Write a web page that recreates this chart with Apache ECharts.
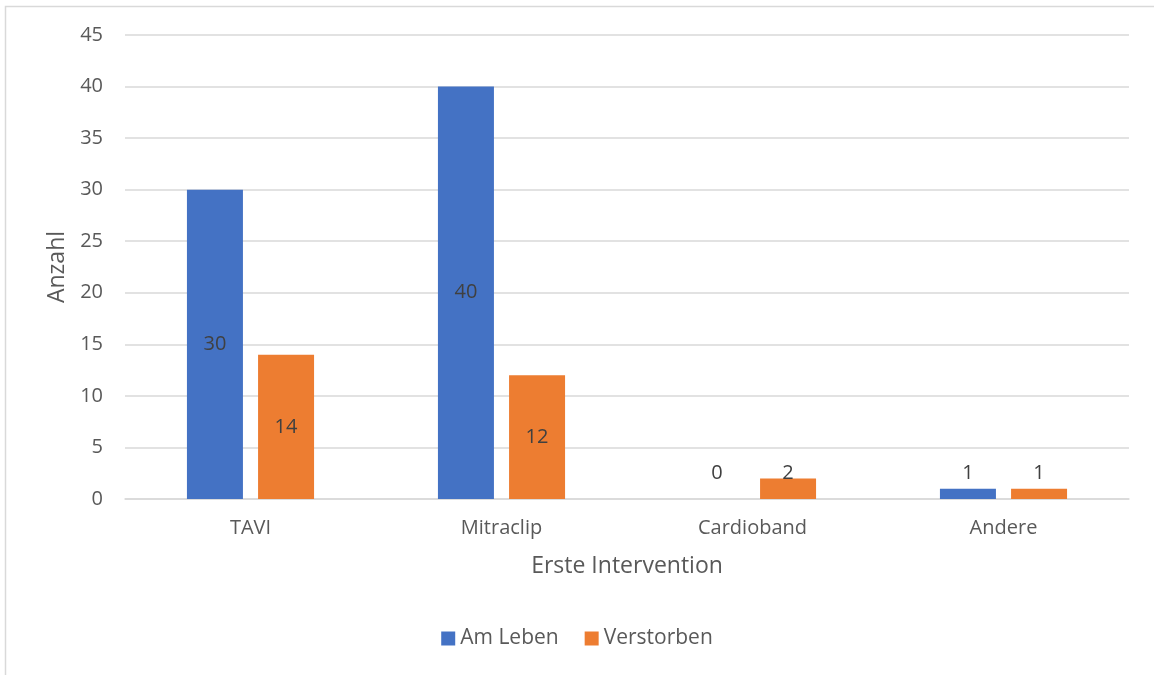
<!DOCTYPE html>
<html>
<head>
<meta charset="utf-8">
<script src="https://cdn.jsdelivr.net/npm/echarts@6/dist/echarts.min.js"></script>
<style>html,body{margin:0;padding:0;background:#fff}#c{width:1154px;height:675px}</style>
</head>
<body>
<div id="c"></div>
<script>
const categories = ['TAVI', 'Mitraclip', 'Cardioband', 'Andere'];
const amLeben = [30, 40, 0, 1];
const verstorben = [14, 12, 2, 1];
const yTicks = [0, 5, 10, 15, 20, 25, 30, 35, 40, 45];

const FONT = '"Open Sans", "Noto Sans", sans-serif';
function mk(vals) {
  return vals.map(v => {
    if (v < 4) {
      return { value: v, label: { position: 'insideBottom', distance: 16 } };
    }
    return v;
  });
}
const chart = echarts.init(document.getElementById('c'));
chart.setOption({
  animation: false,
  textStyle: { fontFamily: FONT },
  grid: { left: 125, right: 25, top: 35, bottom: 176, containLabel: false },
  graphic: [{
    type: 'polyline',
    shape: { points: [[5.5, 675], [5.5, 6.5], [1154, 6.5]] },
    style: { stroke: '#d9d9d9', lineWidth: 1.5, fill: null }
  }],
  legend: {
    bottom: 21, left: 'center', itemWidth: 14, itemHeight: 14, itemGap: 26,
    icon: 'rect',
    textStyle: { fontSize: 21, color: '#595959', fontFamily: FONT },
    data: ['Am Leben', 'Verstorben']
  },
  xAxis: {
    type: 'category', data: categories,
    name: 'Erste Intervention', nameLocation: 'middle', nameGap: 56,
    nameTextStyle: { fontSize: 23, color: '#595959', fontFamily: FONT },
    axisLine: { lineStyle: { color: '#d9d9d9', width: 1.5 } },
    axisTick: { show: false },
    axisLabel: { fontSize: 20, color: '#595959', margin: 19, fontFamily: FONT }
  },
  yAxis: {
    type: 'value', min: 0, max: 45, interval: 5,
    name: 'Anzahl', nameLocation: 'middle', nameGap: 56, nameRotate: 90,
    nameTextStyle: { fontSize: 23, color: '#595959', fontFamily: FONT },
    axisLine: { show: false }, axisTick: { show: false },
    axisLabel: { fontSize: 20, color: '#595959', margin: 22, fontFamily: FONT,
      formatter: v => yTicks.includes(v) ? String(v) : '' },
    splitLine: { lineStyle: { color: '#d9d9d9', width: 1.5 } }
  },
  series: [
    { name: 'Am Leben', type: 'bar', data: mk(amLeben), barWidth: 56, barGap: '27%',
      itemStyle: { color: '#4472c4' },
      label: { show: true, position: 'inside', fontSize: 20, color: '#404040', fontFamily: FONT } },
    { name: 'Verstorben', type: 'bar', data: mk(verstorben), barWidth: 56,
      itemStyle: { color: '#ed7d31' },
      label: { show: true, position: 'inside', fontSize: 20, color: '#404040', fontFamily: FONT } }
  ]
});
</script>
</body>
</html>
